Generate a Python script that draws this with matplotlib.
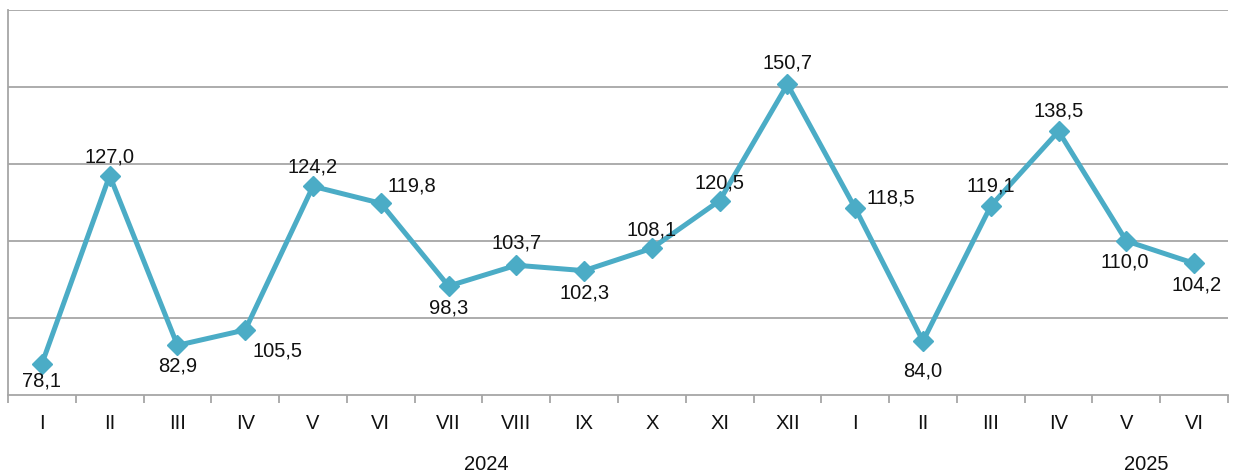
import matplotlib.pyplot as plt
from matplotlib.ticker import FixedLocator
import matplotlib.transforms as mtransforms

plt.rcParams["font.family"] = ["Liberation Sans", "DejaVu Sans"]

months = ["I", "II", "III", "IV", "V", "VI", "VII", "VIII", "IX", "X", "XI", "XII",
          "I", "II", "III", "IV", "V", "VI"]
# values as drawn in the picture (the IV point sits lower than its label says)
values = [78.1, 127.0, 82.9, 86.9, 124.2, 119.8, 98.3, 103.7, 102.3, 108.1, 120.5, 150.7,
          118.5, 84.0, 119.1, 138.5, 110.0, 104.2]
labels = ["78,1", "127,0", "82,9", "105,5", "124,2", "119,8", "98,3", "103,7", "102,3",
          "108,1", "120,5", "150,7", "118,5", "84,0", "119,1", "138,5", "110,0", "104,2"]
years = ["2024", "2025"]
grid_values = [90, 110, 130, 150, 170]

# label offsets in pixels (dx, dy) relative to each point
offsets = [(0, -17), (0, 19), (0, -21), (32, -21), (0, 19), (31, 17), (0, -22), (0, 22),
           (0, -22), (0, 18), (0, 18), (0, 21), (36, 10), (0, -30), (0, 20), (0, 20),
           (-2, -21), (2, -22)]

color = "#4BACC6"
grid = "#A6A6A6"
txt = "#111111"
fs = 14.5

fig = plt.figure(figsize=(12.33, 4.72), dpi=100)
ax = fig.add_axes([8 / 1233, 1 - 395 / 472, 1220 / 1233, 385 / 472])

x = list(range(len(months)))
ax.plot(x, values, color=color, lw=3.6, marker="D", markersize=10, zorder=3)

for xi, v, lab, (dx, dy) in zip(x, values, labels, offsets):
    ax.annotate(lab, (xi, v), xytext=(dx * 0.72, dy * 0.72), textcoords="offset points",
                ha="center", va="center", fontsize=fs, color=txt)

ax.set_xlim(-0.5, len(months) - 0.5)
ax.set_ylim(70, 170)
ax.set_yticks(grid_values)
ax.set_yticklabels([])
ax.tick_params(axis="y", length=0)
ax.grid(axis="y", color=grid, lw=1.3)
ax.set_axisbelow(True)

ax.set_xticks(x)
ax.set_xticklabels(months, fontsize=fs, color=txt)
ax.tick_params(axis="x", which="major", length=0, pad=14)
ax.xaxis.set_minor_locator(FixedLocator([i - 0.5 for i in range(len(months) + 1)]))
ax.tick_params(axis="x", which="minor", length=6, color=grid, width=1.3)

for s in ["top", "right"]:
    ax.spines[s].set_visible(False)
for s in ["left", "bottom"]:
    ax.spines[s].set_color(grid)
    ax.spines[s].set_linewidth(1.3)

trans = mtransforms.blended_transform_factory(ax.transData, fig.transFigure)
ax.text(6.56, 1 - 464 / 472, years[0], transform=trans, ha="center", va="center",
        fontsize=fs, color=txt)
ax.text(16.3, 1 - 464 / 472, years[1], transform=trans, ha="center", va="center",
        fontsize=fs, color=txt)

fig.savefig("out.png", dpi=100)
